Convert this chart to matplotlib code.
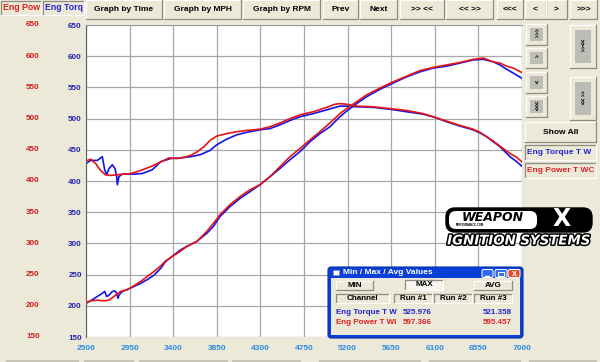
import matplotlib
matplotlib.use("Agg")
import matplotlib.pyplot as plt
import matplotlib.transforms as mtransforms
import matplotlib.patheffects as pe
from matplotlib.patches import Rectangle, FancyBboxPatch

plt.rcParams["font.family"] = ["Liberation Sans", "DejaVu Sans"]
plt.rcParams["font.weight"] = "bold"

# ---- data ----
rpm_tq_blue = [2500, 2548, 2617, 2668, 2693, 2713, 2737, 2772, 2799, 2817, 2823, 2840,
               2875, 2995, 3081, 3184, 3271, 3374, 3477, 3580, 3677, 3780, 3849, 3952,
               4055, 4158, 4296, 4399, 4502, 4605, 4708, 4846, 4984, 5121, 5190, 5293,
               5465, 5637, 5810, 5981, 6102, 6222, 6360, 6497, 6566, 6635, 6703, 6772,
               6824, 6876, 6945, 6996]
tq_blue = [428, 433, 433, 439, 418, 410, 420, 426, 420, 407, 394, 407,
           411, 411, 412, 418, 431, 436, 437, 439, 442, 449, 458, 467,
           474, 478, 482, 484, 490, 497, 503, 508, 514, 520, 520, 519,
           518, 515, 511, 507, 502, 495, 488, 482, 477, 471, 463, 455,
           447, 439, 431, 424]

rpm_tq_red = [2500, 2548, 2600, 2650, 2700, 2755, 2823, 2892, 2961, 3030, 3099, 3168,
              3237, 3305, 3357, 3443, 3512, 3580, 3650, 3718, 3780, 3849, 3952, 4055,
              4158, 4296, 4399, 4502, 4605, 4708, 4846, 4984, 5070, 5121, 5190, 5293,
              5465, 5637, 5810, 5981, 6102, 6222, 6360, 6497, 6566, 6635, 6703, 6772,
              6824, 6876, 6945, 6996]
tq_red = [432, 435, 428, 417, 410, 409, 410, 411, 412, 415, 419, 423,
          428, 433, 437, 436, 438, 441, 447, 455, 465, 472, 476, 479,
          481, 483, 487, 493, 500, 506, 511, 518, 523, 524, 523, 520,
          519, 516, 513, 508, 502, 496, 489, 483, 478, 471, 464, 456,
          450, 444, 438, 431]

rpm_pw_blue = [2500, 2548, 2617, 2668, 2693, 2713, 2737, 2772, 2796, 2817, 2830, 2840,
               2875, 2926, 2995, 3064, 3133, 3202, 3271, 3322, 3470, 3539, 3642, 3746,
               3814, 3883, 3986, 4089, 4193, 4296, 4399, 4502, 4605, 4708, 4812, 4915,
               5018, 5121, 5190, 5293, 5396, 5534, 5671, 5810, 5947, 6084, 6222, 6360,
               6497, 6600, 6703, 6772, 6842, 6910, 6996]
pw_blue = [204, 208, 215, 220, 223, 215, 217, 223, 224, 220, 212, 217,
           223, 226, 231, 236, 242, 249, 260, 271, 289, 295, 303, 316,
           327, 343, 359, 372, 383, 394, 407, 420, 434, 447, 463, 476,
           487, 503, 512, 524, 535, 547, 557, 567, 575, 581, 584, 589,
           594, 595, 591, 586, 579, 573, 565]

rpm_pw_red = [2500, 2548, 2617, 2686, 2737, 2789, 2858, 2926, 2995, 3064, 3133, 3202,
              3271, 3322, 3470, 3539, 3642, 3746, 3814, 3883, 3986, 4089, 4193, 4296,
              4399, 4502, 4605, 4708, 4812, 4915, 5018, 5121, 5190, 5293, 5396, 5534,
              5671, 5810, 5947, 6084, 6222, 6360, 6497, 6600, 6703, 6772, 6842, 6910,
              6996]
pw_red = [205, 208, 209, 208, 209, 215, 223, 226, 232, 239, 247, 255,
          264, 272, 287, 295, 303, 319, 332, 346, 362, 375, 386, 394,
          407, 423, 439, 452, 466, 479, 493, 508, 516, 527, 538, 549,
          559, 568, 577, 582, 586, 590, 595, 597, 591, 589, 584, 581,
          574]

x_ticks = [2500, 2950, 3400, 3850, 4300, 4750, 5200, 5650, 6100, 6550, 7000]
y_ticks = [150, 200, 250, 300, 350, 400, 450, 500, 550, 600, 650]

channels = ["Eng Torque T W", "Eng Power T WI"]
run1_max = ["525.976", "597.366"]
run3_max = ["521.358", "595.457"]

BEIGE = "#ECE9D8"
BLUE = "#1414E6"
RED = "#E61414"

fig = plt.figure(figsize=(6, 3.62), dpi=100, facecolor=BEIGE)

# ---- main plot ----
ax = fig.add_axes([86 / 600, 25 / 362, 436 / 600, 312 / 362])
ax.set_facecolor("white")
ax.plot(rpm_tq_blue, tq_blue, color=BLUE, lw=1.2)
ax.plot(rpm_pw_blue, pw_blue, color=BLUE, lw=1.2)
ax.plot(rpm_tq_red, tq_red, color=RED, lw=1.2)
ax.plot(rpm_pw_red, pw_red, color=RED, lw=1.2)
ax.set_xlim(2500, 7000)
ax.set_ylim(150, 650)
ax.set_xticks(x_ticks)
ax.set_yticks(y_ticks)
ax.set_xticklabels([str(t) for t in x_ticks], color="#2B8CE6", fontsize=6)
ax.set_yticklabels([str(t) for t in y_ticks], color="#2424B0", fontsize=5.8)
ax.tick_params(length=0)
ax.tick_params(axis="x", pad=6)
ax.tick_params(axis="y", pad=3)
ax.grid(color="#A8A8A8", lw=0.9)
for side in ["right", "bottom"]:
    ax.spines[side].set_visible(False)
ax.spines["left"].set_color("#606060")
ax.spines["top"].set_color("#9A9A9A")

# red column of power labels
trans = mtransforms.blended_transform_factory(fig.transFigure, ax.transData)
for t in y_ticks:
    ax.text(33 / 600, t, str(t), transform=trans, color="#CC1E1E", fontsize=5.8,
            ha="center", va="center", clip_on=False)

# ---- window chrome overlay ----
ui = fig.add_axes([0, 0, 1, 1], zorder=3)
ui.set_xlim(0, 600)
ui.set_ylim(362, 0)
ui.axis("off")
ui.patch.set_alpha(0)


def raised(x0, y0, x1, y1, face=BEIGE):
    ui.add_patch(Rectangle((x0, y0), x1 - x0, y1 - y0, facecolor=face, edgecolor="none"))
    ui.plot([x0, x0, x1], [y1, y0, y0], color="white", lw=0.8)
    ui.plot([x0, x1, x1], [y1, y1, y0], color="#8E8C80", lw=0.9)


def sunken(x0, y0, x1, y1, face=BEIGE):
    ui.add_patch(Rectangle((x0, y0), x1 - x0, y1 - y0, facecolor=face, edgecolor="none"))
    ui.plot([x0, x0, x1], [y1, y0, y0], color="#8E8C80", lw=0.9)
    ui.plot([x0, x1, x1], [y1, y1, y0], color="white", lw=0.8)


def button(x0, y0, x1, y1, label, size=6, color="black"):
    raised(x0, y0, x1, y1)
    ui.text((x0 + x1) / 2, (y0 + y1) / 2, label, ha="center", va="center",
            fontsize=size, color=color)


# top toolbar
top_buttons = [(86, 162, "Graph by Time"), (164, 241, "Graph by MPH"),
               (243, 320, "Graph by RPM"), (323, 358, "Prev"), (360, 397, "Next"),
               (400, 444, ">> <<"), (446, 493, "<< >>"), (497, 523, "<<<"),
               (525, 546, "<"), (546, 567, ">"), (570, 597, ">>>")]
for x0, x1, lab in top_buttons:
    button(x0, 0, x1, 19, lab)

sunken(1, 1, 41, 15)
ui.text(3, 8, "Eng Pow", color="#E02020", fontsize=6.3, va="center")
sunken(43, 1, 84, 15)
ui.text(45, 8, "Eng Torq", color="#2424D0", fontsize=6.3, va="center")

# right-side scroll buttons
small = [(24, 45, "^\n^\n^"), (48, 68, "^"), (72, 93, "v"), (96, 117, "v\nv\nv")]
for y0, y1, lab in small:
    raised(526, y0, 547, y1)
    ui.add_patch(Rectangle((530, y0 + 4), 13, y1 - y0 - 8, facecolor="#BDBDB8", edgecolor="none"))
    ui.text(536.5, (y0 + y1) / 2, lab, ha="center", va="center", fontsize=4.5,
            linespacing=0.6)
for y0, y1, lab in [(25, 68, "v\nv\n^\n^"), (77, 120, "^\n^\nv\nv")]:
    raised(570, y0, 596, y1)
    ui.add_patch(Rectangle((575, y0 + 5), 16, y1 - y0 - 10, facecolor="#BDBDB8", edgecolor="none"))
    ui.text(583, (y0 + y1) / 2, lab, ha="center", va="center", fontsize=4.5,
            linespacing=0.6)

button(525, 122, 596, 142, "Show All")
sunken(525, 145, 596, 160)
ui.text(527, 152.5, "Eng Torque T W", color="#2424D0", fontsize=6, va="center")
sunken(525, 163, 596, 178)
ui.text(527, 170.5, "Eng Power T WC", color="#E02020", fontsize=6, va="center")

# bottom strip of partial buttons
for x0, x1 in [(7, 78), (85, 133), (140, 227), (233, 300), (320, 420), (430, 520), (530, 596)]:
    ui.plot([x0, x1], [361, 361], color="#C8C5B6", lw=1.5)

# ---- logo ----
ui.add_patch(FancyBboxPatch((446, 208), 146, 24, boxstyle="round,pad=0,rounding_size=9",
                            facecolor="black", edgecolor="black", lw=1))
ui.add_patch(FancyBboxPatch((449, 211), 88, 18, boxstyle="round,pad=0,rounding_size=7",
                            facecolor="white", edgecolor="none"))
ui.text(493, 217.5, "WEAPON", fontsize=9, style="italic", color="black",
        ha="center", va="center", family="DejaVu Sans")
ui.text(470, 225.5, "PERFORMANCE.COM", fontsize=2, color="black", ha="center", va="center")
ui.text(562, 219, "X", fontsize=17, color="white", ha="center", va="center",
        family="DejaVu Sans")
ui.text(519, 241, "IGNITION SYSTEMS", fontsize=9.6, style="italic", color="white",
        ha="center", va="center", family="DejaVu Sans",
        path_effects=[pe.withStroke(linewidth=2.2, foreground="black")])

# ---- Min / Max / Avg dialog ----
ui.add_patch(FancyBboxPatch((328, 267), 195, 71, boxstyle="round,pad=0,rounding_size=3",
                            facecolor="#0A3FD8", edgecolor="#0831A8", lw=0.8))
ui.add_patch(Rectangle((331, 278), 189, 57, facecolor=BEIGE, edgecolor="none"))
ui.add_patch(Rectangle((333, 270), 6, 5, facecolor="white", edgecolor="#7090E0", lw=0.5))
ui.text(343, 272.5, "Min / Max / Avg Values", color="white", fontsize=6, va="center")
for x0, x1, fc in [(482, 493, "#2F6BF0"), (495, 507, "#2F6BF0"), (508, 520, "#E0512C")]:
    ui.add_patch(FancyBboxPatch((x0, 269.5), x1 - x0, 8, boxstyle="round,pad=0,rounding_size=1.5",
                                facecolor=fc, edgecolor="white", lw=0.7))
ui.plot([485, 489], [275.5, 275.5], color="white", lw=1)
ui.add_patch(Rectangle((498, 271.5), 6, 4.5, facecolor="none", edgecolor="white", lw=0.8))
ui.text(514, 273.7, "x", color="white", fontsize=6.5, ha="center", va="center")

button(336, 281, 373, 290, "MIN", size=5.8)
sunken(405, 280, 443, 290, face="#F6F5F0")
ui.text(424, 285, "MAX", ha="center", va="center", fontsize=5.8)
button(474, 281, 512, 290, "AVG", size=5.8)
for x0, x1, lab in [(336, 389, "Channel"), (394, 432, "Run #1"),
                    (434, 472, "Run #2"), (474, 512, "Run #3")]:
    sunken(x0, 294, x1, 303)
    ui.text((x0 + x1) / 2, 298.5, lab, ha="center", va="center", fontsize=5.8)

row_colors = ["#2424D0", "#E02020"]
for i, name in enumerate(channels):
    yy = 312 + i * 10
    ui.text(336, yy, name, color=row_colors[i], fontsize=5.8, va="center")
    ui.text(403, yy, run1_max[i], color=row_colors[i], fontsize=5.8, va="center")
    ui.text(512, yy, run3_max[i], color=row_colors[i], fontsize=5.8, va="center", ha="right")

fig.savefig("out.png", dpi=100, facecolor=BEIGE)
